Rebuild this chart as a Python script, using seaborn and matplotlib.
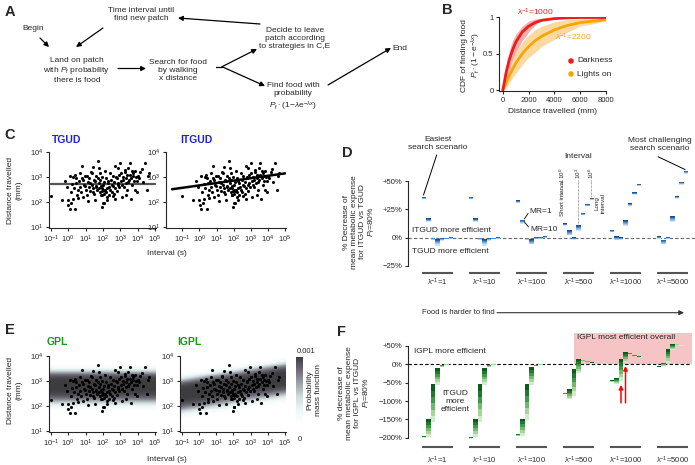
import numpy as np
import pandas as pd
import matplotlib
matplotlib.use("Agg")
import matplotlib.pyplot as plt
import seaborn as sns
from matplotlib.colors import LinearSegmentedColormap

# ---------------- data ----------------
# B: CDF of finding food
cdf_x = [0, 250, 500, 750, 1000, 1500, 2000, 2500, 3000, 4000, 5000, 6000, 8000]
dark_mean = [0, 0.24, 0.42, 0.55, 0.66, 0.80, 0.88, 0.93, 0.96, 0.985, 0.995, 1.0, 1.0]
dark_low = [0, 0.12, 0.28, 0.42, 0.52, 0.68, 0.80, 0.90, 0.96, 0.98, 0.99, 0.995, 1.0]
dark_high = [0.05, 0.35, 0.55, 0.68, 0.77, 0.88, 0.95, 0.98, 0.99, 1.0, 1.0, 1.0, 1.0]
light_mean = [0, 0.10, 0.20, 0.29, 0.37, 0.50, 0.60, 0.68, 0.74, 0.83, 0.89, 0.93, 0.97]
light_low = [0, 0.03, 0.10, 0.17, 0.23, 0.35, 0.45, 0.52, 0.60, 0.70, 0.80, 0.88, 0.95]
light_high = [0.02, 0.18, 0.32, 0.42, 0.52, 0.66, 0.76, 0.83, 0.88, 0.94, 0.97, 0.98, 0.99]

# C / E: flights (log10 interval in s, log10 distance in mm)
interval_log = [-1.00, -0.35, -0.20, -0.08, 0.00, 0.02, 0.08, 0.10, 0.15, 0.19,
                0.25, 0.29, 0.33, 0.38, 0.42, 0.45, 0.48, 0.52, 0.58, 0.62,
                0.67, 0.70, 0.74, 0.77, 0.80, 0.84, 0.87, 0.90, 0.96, 0.99,
                1.03, 1.06, 1.10, 1.14, 1.18, 1.22, 1.25, 1.28, 1.32, 1.35,
                1.38, 1.41, 1.44, 1.47, 1.50, 1.54, 1.54, 1.58, 1.60, 1.63,
                1.66, 1.70, 1.73, 1.76, 1.79, 1.80, 1.83, 1.83, 1.86, 1.88,
                1.90, 1.92, 1.92, 1.95, 1.97, 2.00, 2.02, 2.02, 2.04, 2.06,
                2.08, 2.10, 2.12, 2.14, 2.17, 2.19, 2.21, 2.24, 2.27, 2.31,
                2.33, 2.36, 2.40, 2.43, 2.46, 2.50, 2.53, 2.56, 2.60, 2.63,
                2.66, 2.69, 2.72, 2.76, 2.79, 2.82, 2.85, 2.88, 2.92, 2.95,
                2.98, 3.02, 3.05, 3.08, 3.11, 3.14, 3.17, 3.20, 3.24, 3.27,
                3.30, 3.34, 3.37, 3.40, 3.43, 3.46, 3.50, 3.53, 3.56, 3.60,
                3.63, 3.65, 3.69, 3.72, 3.75, 3.78, 3.82, 3.85, 3.88, 3.94,
                3.94, 4.00, 4.08, 4.15, 4.23, 4.30, 4.42, 4.52, 4.58, 4.62,
                0.55, 1.15, 1.95, 2.25, 2.70, 3.35, 1.45, 2.85, 0.30, 2.55]
distance_log = [2.27, 2.09, 2.83, 2.62, 2.09, 1.89, 1.72, 3.03, 2.40, 1.96,
                2.72, 2.12, 2.55, 3.09, 1.72, 2.95, 2.76, 2.30, 2.49, 2.85,
                3.16, 2.60, 2.40, 3.43, 2.95, 2.20, 2.89, 2.70, 2.63, 3.05,
                2.50, 2.29, 3.03, 2.80, 2.62, 2.95, 2.76, 2.45, 3.20, 3.16,
                2.70, 2.55, 2.43, 2.90, 2.35, 2.83, 2.09, 3.05, 2.60, 2.63,
                2.48, 2.95, 3.63, 2.75, 3.36, 2.55, 3.16, 2.89, 2.40, 2.30,
                2.65, 2.56, 2.29, 3.00, 2.45, 2.50, 2.69, 1.96, 2.35, 1.96,
                2.80, 2.45, 2.49, 3.25, 2.96, 2.40, 2.23, 2.55, 2.85, 2.76,
                2.30, 2.62, 3.16, 2.50, 2.90, 2.43, 2.70, 3.05, 2.63, 2.35,
                2.80, 3.43, 2.55, 3.00, 2.96, 2.45, 2.70, 2.76, 3.10, 2.60,
                3.56, 3.16, 2.85, 2.23, 2.70, 3.00, 2.89, 2.60, 3.20, 3.29,
                2.75, 2.95, 3.09, 2.50, 2.82, 3.36, 2.90, 3.10, 3.56, 2.12,
                2.95, 3.23, 2.70, 3.15, 3.03, 2.85, 3.25, 2.49, 3.00, 2.43,
                2.83, 3.05, 2.95, 3.20, 3.32, 2.80, 3.56, 2.49, 3.05, 3.16,
                2.18, 2.05, 1.80, 2.10, 2.15, 2.30, 3.40, 3.35, 3.00, 2.25]

tgud_level = 2.72                      # log10 mm
itgud_start, itgud_end = (-1.6, 2.52), (5.0, 3.15)
gpl_center = 2.86
igpl_center = (2.53, 3.16)             # at 10^-1 s and 10^5 s

# D / F: 6 food-difficulty groups x 7 interval/MR slots, (top, bottom) of each mark in %
lam_labels = ["1", "10", "100", "500", "1000", "5000"]
D_top = [[36.2, 17.0, 0.0, -1.0, 0.0, 0.0, 0.5],
         [36.2, 17.0, 0.0, -1.0, 0.0, 0.0, 0.5],
         [33.0, 16.0, 0.0, -1.0, 0.5, 0.5, 1.5],
         [12.8, 6.5, 0.2, 11.0, 22.0, 30.0, 35.3],
         [7.0, 1.2, 0.2, 15.4, 30.2, 40.2, 47.7],
         [1.2, -1.8, 0.8, 19.0, 36.7, 49.2, 59.0]]
D_bot = [[33.8, 13.9, -2.0, -7.0, -3.0, -1.5, -1.0],
         [33.8, 13.9, -2.0, -7.0, -3.0, -1.5, -1.0],
         [30.6, 12.5, -2.0, -6.0, -1.5, -1.0, -0.5],
         [10.4, 2.0, -1.8, 5.9, 19.6, 27.6, 33.0],
         [4.6, -2.4, -1.8, 10.3, 27.8, 37.8, 45.3],
         [-1.0, -6.0, -1.2, 13.9, 34.3, 46.8, 56.6]]
F_top = [[-195, -150, -55, -10, -1, 0.5, 0.5],
         [-198, -150, -55, -10, -1, 0.5, 0.5],
         [-190, -148, -55, -8, -1, 0.5, 0.5],
         [-78, -68, -12, 15, 12, 9, 5],
         [-44, -37, 15, 33, 31, 25, 22],
         [-6, 4, 41, 56, 56, 53, 51]]
F_bot = [[-200, -197, -158, -57, -8, -1, -0.5],
         [-202, -199, -157, -57, -8, -1, -0.5],
         [-195, -194, -152, -57, -6, -1, -0.5],
         [-82, -95, -85, -25, 9, 6, 2],
         [-48, -53, -46, 5, 27, 22, 19],
         [-8, -5, 3, 38, 53, 51, 49]]

flights = pd.DataFrame({"interval": 10.0 ** np.array(interval_log),
                        "distance": 10.0 ** np.array(distance_log)})

# ---------------- style ----------------
sns.set_theme(style="ticks")
plt.rcParams["font.family"] = ["Liberation Sans", "DejaVu Sans"]
plt.rcParams.update({
    "mathtext.fontset": "custom", "mathtext.rm": "Liberation Sans",
    "mathtext.it": "Liberation Sans:italic", "mathtext.bf": "Liberation Sans:bold",
    "axes.linewidth": 0.8, "xtick.major.width": 0.8, "ytick.major.width": 0.8,
    "xtick.major.size": 2.5, "ytick.major.size": 2.5,
    "xtick.labelsize": 5.5, "ytick.labelsize": 5.5,
    "xtick.major.pad": 1.5, "ytick.major.pad": 1.5,
})
FS = 6
RED, ORANGE = "#ee1c1c", "#f7a600"
BLUE_T, GREEN_T = "#1f1fe0", "#139a13"

W, H = 695, 465
fig = plt.figure(figsize=(6.95, 4.65), dpi=100)


def rect(l, t, r, b):
    return [l / W, 1 - b / H, (r - l) / W, (b - t) / H]


# overlay for free text / arrows, in pixel coordinates
ov = fig.add_axes([0, 0, 1, 1])
ov.set_xlim(0, W)
ov.set_ylim(H, 0)
ov.axis("off")
ov.set_zorder(10)


def arrow(x0, y0, x1, y1, color="black", lw=0.9):
    ov.annotate("", xy=(x1, y1), xytext=(x0, y0),
                arrowprops=dict(arrowstyle="-|>", color=color, lw=lw,
                                mutation_scale=7, shrinkA=0, shrinkB=0))


def txt(x, y, s, **kw):
    kw.setdefault("fontsize", FS)
    kw.setdefault("ha", "center")
    kw.setdefault("va", "center")
    ov.text(x, y, s, linespacing=1.2, **kw)


# ---------------- A: flow diagram ----------------
txt(5, 12, "A", fontsize=10.5, fontweight="bold", ha="left")
txt(33, 29, "Begin")
txt(141, 15, "Time interval until\nfind new patch")
txt(77, 70.5, "Land on patch\nwith $P_\\mathrm{f}$ probability\nthere is food")
txt(178, 70.5, "Search for food\nby walking\nx distance")
txt(295, 38, "Decide to leave\npatch according\nto strategies in C,E")
txt(293, 97.5, "Find food with\nprobability\n" + r"$P_\mathrm{f}\cdot(1\!-\!\lambda\mathrm{e}^{-\lambda x})$")
txt(400, 49, "End")
arrow(40, 38, 49, 47)
arrow(103, 28, 76, 47)
arrow(118, 68.5, 146, 68.5)
ov.plot([216, 222], [66.7, 66.7], color="black", lw=0.9)
arrow(222, 66.7, 257, 49)
arrow(222, 66.7, 265, 86)
arrow(260, 24, 178, 18)
arrow(328, 85, 391, 48)

# ---------------- B: CDF ----------------
axB = fig.add_axes(rect(499, 17.5, 606, 91.5))
axB.fill_between(cdf_x, light_low, light_high, color="#fbd9a3", lw=0)
axB.fill_between(cdf_x, dark_low, dark_high, color="#f5a3a3", lw=0, alpha=0.9)
sns.lineplot(x=cdf_x, y=light_mean, ax=axB, color=ORANGE, lw=2)
sns.lineplot(x=cdf_x, y=dark_mean, ax=axB, color=RED, lw=2)
axB.set_xlim(-300, 8000)
axB.set_ylim(-0.02, 1.0)
axB.set_xticks([0, 2000, 4000, 6000, 8000])
axB.set_yticks([0, 0.5, 1])
axB.set_yticklabels(["0", "0.5", "1"])
sns.despine(ax=axB)
axB.set_xlabel("Distance travelled (mm)", fontsize=FS, labelpad=3)
txt(442, 10, "B", fontsize=10.5, fontweight="bold", ha="left")
txt(465, 55, "CDF of finding food", rotation=90)
txt(476, 55, r"$P_\mathrm{f}\cdot(1-\mathrm{e}^{-\lambda x})$", rotation=90)
txt(535, 12, r"λ$^{-1}$=1000", color=RED)
txt(573, 37, r"λ$^{-1}$=2200", color=ORANGE)
ov.scatter([571, 571], [61, 74], s=16, color=[RED, ORANGE], linewidths=0)
txt(577, 61, "Darkness", ha="left")
txt(577, 74, "Lights on", ha="left")


# ---------------- C / E: scatter panels ----------------
def log_axes(r, xlo):
    ax = fig.add_axes(rect(*r))
    ax.set_xscale("log")
    ax.set_yscale("log")
    ax.set_xlim(10 ** xlo, 10 ** 5.05)
    ax.set_ylim(10 ** 0.98, 1e4)
    ax.set_xticks([10.0 ** k for k in range(-1, 6)])
    ax.set_yticks([10.0 ** k for k in range(1, 5)])
    ax.minorticks_off()
    sns.despine(ax=ax)
    return ax


def dots(ax):
    sns.scatterplot(data=flights, x="interval", y="distance", ax=ax, s=5,
                    color="black", linewidth=0, zorder=3)
    ax.set_xlabel("")
    ax.set_ylabel("")


axC1 = log_axes((49, 152, 156, 228), -1.1)
dots(axC1)
sns.lineplot(x=[0.1, 1e5], y=[10 ** tgud_level] * 2, ax=axC1, color="#555555", lw=1.6)
axC2 = log_axes((166, 152, 286, 228), -1.95)
dots(axC2)
sns.lineplot(x=[10 ** itgud_start[0], 10 ** itgud_end[0]],
             y=[10 ** itgud_start[1], 10 ** itgud_end[1]], ax=axC2, color="black", lw=1.8)

txt(4, 135, "C", fontsize=10.5, fontweight="bold", ha="left")
txt(52, 140, "TGUD", color=BLUE_T, fontweight="bold", fontsize=7.5, ha="left")
txt(180, 140, "ITGUD", color=BLUE_T, fontweight="bold", fontsize=7.5, ha="left")
txt(15, 190, "Distance travelled\n(mm)", rotation=90)
txt(167, 253, "Interval (s)")

pmf_cmap = LinearSegmentedColormap.from_list(
    "pmf", ["#ffffff", "#eef6f6", "#cddcdc", "#9ea3ab", "#6e6a76", "#3d3d40"])
gx = np.linspace(-2.0, 5.1, 240)
gy = np.linspace(0.95, 4.0, 240)
GX, GY = np.meshgrid(gx, gy)


def band(center):
    d = GY - center
    s = np.where(d > 0, 0.57, 0.75)
    return np.exp(-(np.abs(d) / s) ** 4)


axE1 = log_axes((49, 356, 156, 432), -1.1)
mesh = axE1.pcolormesh(10 ** GX, 10 ** GY, band(gpl_center), cmap=pmf_cmap,
                       vmin=0, vmax=1, shading="auto", rasterized=True, zorder=0)
dots(axE1)
axE2 = log_axes((180, 356, 286, 432), -1.1)
slope = (igpl_center[1] - igpl_center[0]) / 6.0
axE2.pcolormesh(10 ** GX, 10 ** GY, band(igpl_center[0] + slope * (GX + 1)),
                cmap=pmf_cmap, vmin=0, vmax=1, shading="auto", rasterized=True, zorder=0)
dots(axE2)
cax = fig.add_axes(rect(296, 357, 303, 423))
cb = fig.colorbar(mesh, cax=cax)
cb.set_ticks([])
cb.outline.set_visible(False)

txt(5, 330, "E", fontsize=10.5, fontweight="bold", ha="left")
txt(47, 342, "GPL", color=GREEN_T, fontweight="bold", fontsize=7.5, ha="left")
txt(177, 342, "IGPL", color=GREEN_T, fontweight="bold", fontsize=7.5, ha="left")
txt(15, 390, "Distance travelled\n(mm)", rotation=90)
txt(167, 459, "Interval (s)")
txt(306, 351, "0.001", fontsize=5.5)
txt(300, 439, "0", fontsize=5.5)
txt(314, 390, "Probability\nmass function", rotation=90)

# ---------------- D / F: grouped gradient marks ----------------
SLOT = 4.5 / 47.0
XLIM = (-0.628, 5.479)
D_COLS = ["#1b4b8c", "#2a68ad", "#4f8bc8", "#7eaddb", "#a9c9ea", "#cfe1f3"]
F_COLS = ["#0d5a1e", "#1f7a30", "#3f9a48", "#70b96d", "#a3d59d", "#d0ecca"]


def grad_bars(ax, tops, bots, width, colors):
    for g, (tg, bg) in enumerate(zip(tops, bots)):
        for s, (t, b) in enumerate(zip(tg, bg)):
            x = g + (s - 3) * SLOT
            edges = np.linspace(t, b, len(colors) + 1)
            ax.bar([x] * len(colors), edges[:-1] - edges[1:], bottom=edges[1:],
                   width=width, color=colors, linewidth=0, zorder=3)


def groups(ax, yline, ylab):
    tr = ax.get_xaxis_transform()
    for g, lab in enumerate(lam_labels):
        ax.plot([g - 0.33, g + 0.33], [yline, yline], transform=tr, color="#555555",
                lw=1.5, clip_on=False, solid_capstyle="butt")
        ax.text(g, ylab, "λ$^{-1}$=" + lab, transform=tr, ha="center", va="center",
                fontsize=5.5)


def pct(v):
    return "0%" if v == 0 else ("+%d%%" % v if v > 0 else "\u2212%d%%" % -v)


axD = fig.add_axes(rect(408, 165, 695, 268))
axD.set_xlim(*XLIM)
axD.set_ylim(-26.8, 64.2)
axD.axhline(0, color="#666666", lw=0.8, ls=(0, (3, 2)), zorder=1)
grad_bars(axD, D_top, D_bot, 0.092, D_COLS)
axD.set_yticks([-25, 0, 25, 50])
axD.set_yticklabels([pct(v) for v in [-25, 0, 25, 50]])
axD.set_xticks([])
sns.despine(ax=axD, bottom=True)
axD.spines["left"].set_bounds(-25, 50)
groups(axD, -0.051, -0.139)

txt(342, 153, "D", fontsize=10.5, fontweight="bold", ha="left")
txt(360, 222, "% Decrease of\nmean metabolic expense\nfor ITGUD vs TGUD\n$P_\\mathrm{f}$=80%", rotation=90)
txt(438, 143, "Easiest\nsearch scenario")
ov.plot([436.7, 423.5], [155, 195], color="black", lw=0.7)
txt(660, 144, "Most challenging\nsearch scenario")
ov.plot([658, 685], [156.7, 169.5], color="black", lw=0.7)
txt(578, 156, "Interval")
txt(562, 216, "Short interval", rotation=90, va="bottom", fontsize=4.5)
ov.plot([562, 562], [180, 194], color="#555555", lw=0.5, ls=(0, (1, 1)))
txt(562, 179, "10$^0$", rotation=90, va="bottom", fontsize=4.5)
txt(578, 179, "10$^3$", rotation=90, va="bottom", fontsize=4.5)
ov.plot([578, 578], [180, 225], color="#555555", lw=0.5, ls=(0, (1, 1)))
txt(591, 179, "10$^6$", rotation=90, va="bottom", fontsize=4.5)
ov.plot([591, 591], [180, 197], color="#555555", lw=0.5, ls=(0, (1, 1)))
txt(600, 203, "Long\ninterval", rotation=90, fontsize=4.5)
txt(529, 211.7, "MR=1", ha="left")
ov.plot([528, 524.3], [213.5, 219], color="black", lw=0.6)
txt(530, 229.3, "MR=10", ha="left")
ov.plot([528.5, 524.5], [227, 222], color="black", lw=0.6)
txt(412, 230, "ITGUD more efficient", ha="left")
txt(412, 251.7, "TGUD more efficient", ha="left")
txt(422, 312.7, "Food is harder to find", ha="left", fontsize=5.5)
arrow(497, 312.7, 684, 312.7, color="#333333", lw=0.8)

axF = fig.add_axes(rect(408, 333, 695, 440))
axF.set_xlim(*XLIM)
axF.set_ylim(-206, 85)
axF.fill_between([2.90, 5.41], 0, 85, color="#f6c4c4", lw=0, zorder=0)
axF.plot([XLIM[0], 5.38], [0, 0], color="black", lw=0.8, ls=(0, (3, 2)), zorder=1)
grad_bars(axF, F_top, F_bot, SLOT, F_COLS)
for s, tip in [(2, -56), (3, -4.6)]:
    axF.annotate("", xy=(4 + (s - 3) * SLOT, tip), xytext=(4 + (s - 3) * SLOT, -105),
                 arrowprops=dict(arrowstyle="-|>", color="red", lw=1.1,
                                 mutation_scale=6, shrinkA=0, shrinkB=0), zorder=5)
ft = [-200, -150, -100, -50, 0, 50]
axF.set_yticks(ft)
axF.set_yticklabels([pct(v) for v in ft])
axF.set_xticks([])
sns.despine(ax=axF, bottom=True)
axF.spines["left"].set_bounds(-200, 50)
groups(axF, -0.065, -0.187)

txt(337, 332, "F", fontsize=10.5, fontweight="bold", ha="left")
txt(355, 393, "% decrease of\nmean metabolic expense\nfor IGPL vs ITGUD\n$P_\\mathrm{f}$=80%", rotation=90)
txt(414, 351.7, "IGPL more efficient", ha="left")
txt(455, 401.7, "ITGUD\nmore\nefficient")
txt(577, 337, "IGPL most efficient overall", ha="left")

fig.savefig("out.png", dpi=100)
